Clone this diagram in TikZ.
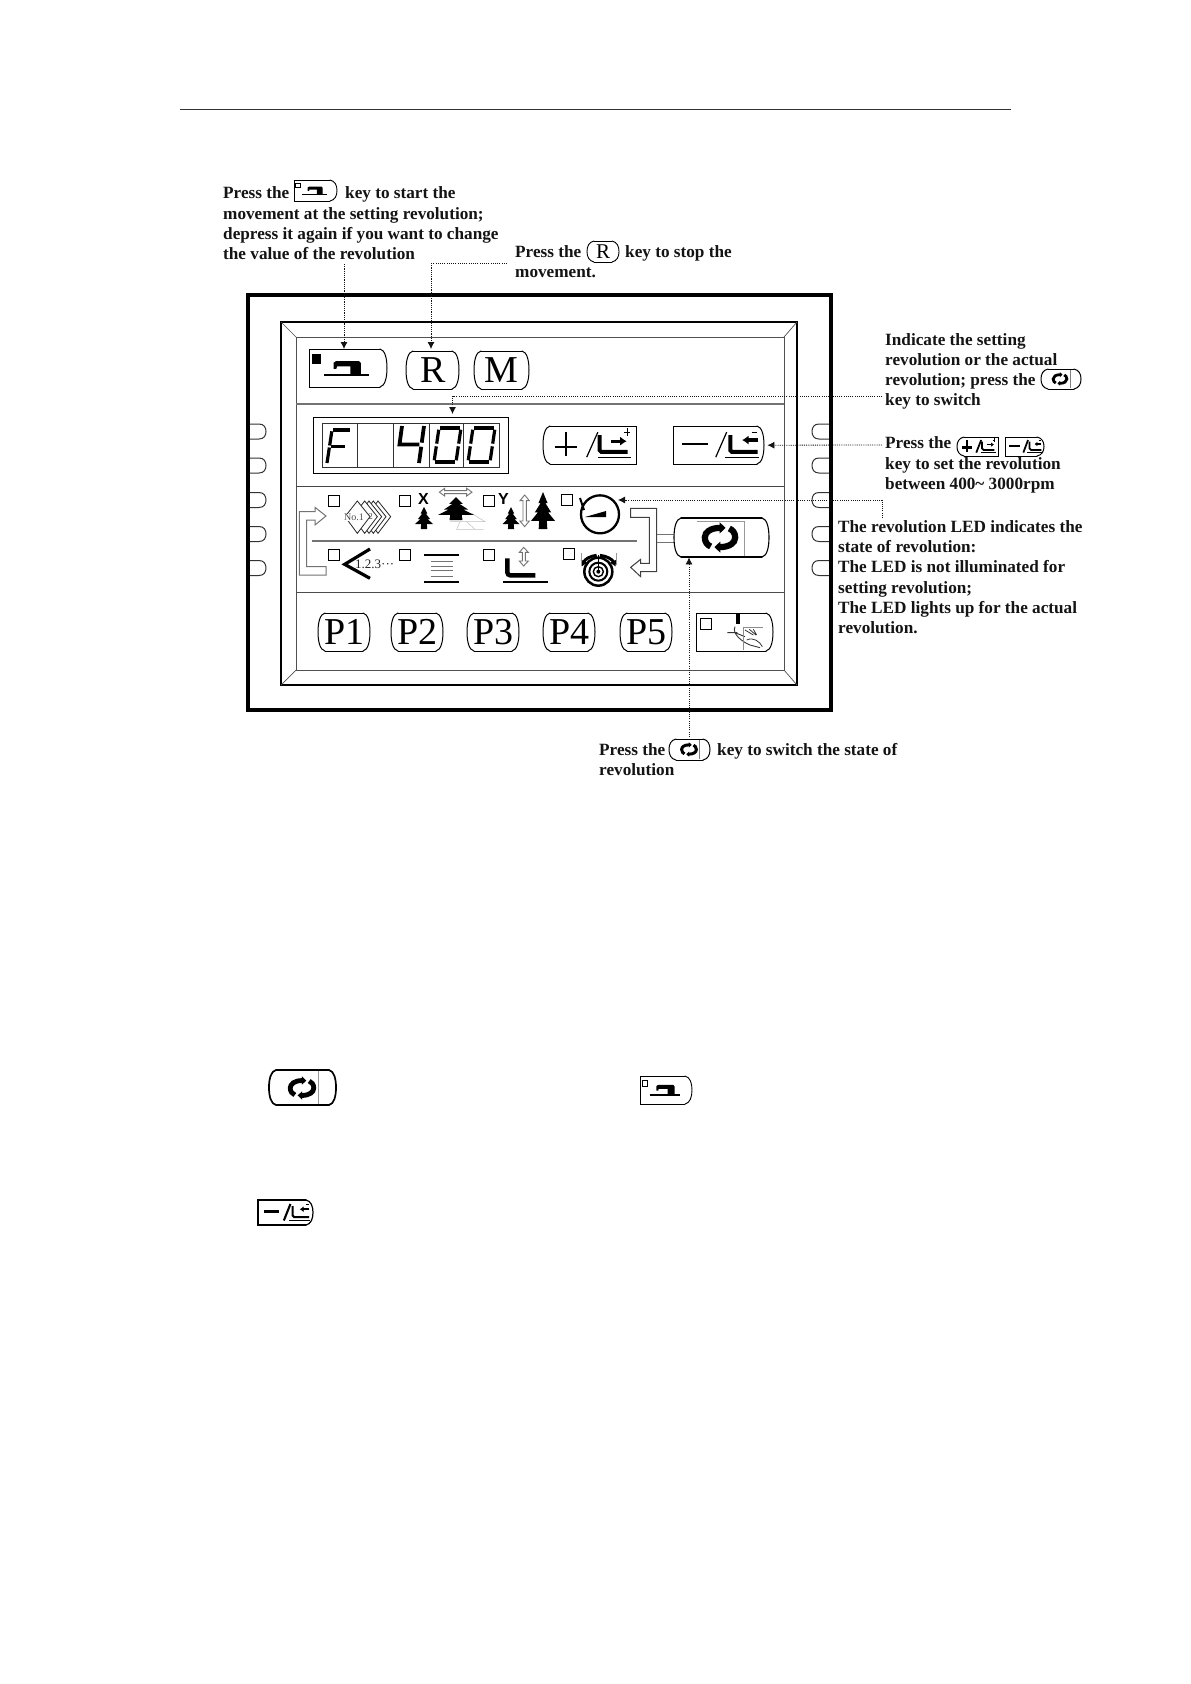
\documentclass[tikz,border=0pt]{standalone}
\usepackage{fontspec}
\setmainfont{Liberation Serif}
\newfontfamily\sansb{Liberation Sans}
\usetikzlibrary{arrows.meta,calc}
\definecolor{ink}{gray}{0.08}
\definecolor{midg}{gray}{0.45}
\tikzset{
  note/.style={font=\fontsize{17.2}{20.35}\selectfont\bfseries,text=ink,inner sep=0pt,align=left,anchor=north west},
  noteone/.style={font=\fontsize{17.2}{20.35}\selectfont\bfseries,text=ink,inner sep=0pt,anchor=base west},
  dotline/.style={line width=0.8pt,dash pattern=on 1.1pt off 1.1pt,ink},
  dotarrow/.style={dotline,-{Latex[length=7pt,width=7pt,sep=0pt]}},
  keyline/.style={line width=1pt,black,line cap=round},
  ledbox/.style={draw=black,line width=1pt,minimum size=11pt,inner sep=0pt,fill=white},
  zoomunits/.style={shift={(280,470)},x=0.33333pt,y=-0.33333pt},
  grayarrow/.style={draw=midg,line width=0.9pt,fill=white,line join=miter},
}
% key: name x y w h leftCurved rightCurved lw text
\newcommand\keybox[9]{%
  \draw[keyline,line width=#8pt] (#2+7,#3) -- (#2+#4-7,#3) (#2+7,#3+#5) -- (#2+#4-7,#3+#5);
  \ifnum#6=1
    \draw[keyline,line width=#8pt] (#2+7,#3) .. controls (#2+2,#3+1) and (#2,#3+#5*0.25) .. (#2,#3+#5*0.5) .. controls (#2,#3+#5*0.75) and (#2+2,#3+#5-1) .. (#2+7,#3+#5);
  \else
    \draw[keyline,line width=#8pt] (#2+7,#3) -- (#2,#3) -- (#2,#3+#5) -- (#2+7,#3+#5);
  \fi
  \ifnum#7=1
    \draw[keyline,line width=#8pt] (#2+#4-7,#3) .. controls (#2+#4-2,#3+1) and (#2+#4,#3+#5*0.25) .. (#2+#4,#3+#5*0.5) .. controls (#2+#4,#3+#5*0.75) and (#2+#4-2,#3+#5-1) .. (#2+#4-7,#3+#5);
  \else
    \draw[keyline,line width=#8pt] (#2+#4-7,#3) -- (#2+#4,#3) -- (#2+#4,#3+#5) -- (#2+#4-7,#3+#5);
  \fi
  \node[inner sep=0pt,anchor=north west,minimum width=#4pt,minimum height=#5pt] (#1) at (#2,#3) {#9};
}
% sewing glyph: x y w h ledfill
\newcommand\sewglyph[5]{%
  \begin{scope}[shift={(#1,#2)},x=#3pt,y=-#4pt]
    \draw[line width=0.8pt,fill=#5] (.043,.14) rectangle (.15,.37);
    \fill[black] (.316,.36) -- (.345,.32) -- (.64,.32) -- (.665,.37) -- (.665,.67) -- (.53,.67) -- (.53,.46) -- (.36,.46) -- (.35,.52) -- (.316,.52) -- cycle;
    \fill[black] (.195,.65) rectangle (.77,.70);
  \end{scope}}
% cycle glyph: cx cy s
\newcommand\cycleglyph[3]{%
  \begin{scope}[shift={(#1,#2)},x=#3pt,y=-#3pt]
    \draw[line width=#3*0.40pt,black] (0,-.62) .. controls (-.6,-.62) and (-.98,-.35) .. (-.98,0) .. controls (-.98,.3) and (-.8,.5) .. (-.6,.58);
    \fill[black] (-.02,-.98) -- (.36,-.62) -- (-.02,-.26) -- cycle;
    \draw[line width=#3*0.40pt,black] (0,.62) .. controls (.6,.62) and (.98,.35) .. (.98,0) .. controls (.98,-.3) and (.8,-.5) .. (.6,-.58);
    \fill[black] (.02,.98) -- (-.36,.62) -- (.02,.26) -- cycle;
  \end{scope}}
% plus/minus glyphs: x y w h footlw dashlw
\newcommand\plusglyph[6]{%
  \begin{scope}[shift={(#1,#2)},x=#3pt,y=-#4pt]
    \draw[line width=#6pt] (.13,.55) -- (.37,.55) (.247,.16) -- (.247,.79);
    \draw[line width=#6pt*0.8] (.47,.82) -- (.59,.16);
    \draw[line width=#5pt,rounded corners=1.5pt] (.61,.24) -- (.61,.68) -- (.91,.68);
    \draw[line width=#6pt*0.7] (.59,.82) -- (.95,.82);
    \draw[line width=#5pt*0.8,-{Latex[length=#3pt*0.07,width=#4pt*0.24]}] (.73,.40) -- (.90,.40);
    \draw[line width=0.4pt] (.875,.16) -- (.935,.16) (.905,.06) -- (.905,.26);
  \end{scope}}
\newcommand\minusglyph[6]{%
  \begin{scope}[shift={(#1,#2)},x=#3pt,y=-#4pt]
    \draw[line width=#6pt] (.10,.47) -- (.385,.47);
    \draw[line width=#6pt*0.8] (.47,.82) -- (.59,.16);
    \draw[line width=#5pt,rounded corners=1.5pt] (.63,.24) -- (.63,.68) -- (.93,.68);
    \draw[line width=#6pt*0.7] (.57,.82) -- (.95,.82);
    \draw[line width=#5pt*0.8,-{Latex[length=#3pt*0.07,width=#4pt*0.24]}] (.93,.37) -- (.76,.37);
    \draw[line width=0.4pt] (.865,.16) -- (.925,.16);
  \end{scope}}
% tree: cx top halfw h
\newcommand\treeg[4]{%
  \fill[black,shift={(#1,#2)},x=#3pt,y=-#4pt] (0,0) -- (.38,.30) -- (.2,.30) -- (.68,.55) -- (.42,.55) -- (1,.78) -- (.32,.78) -- (.36,1) -- (-.36,1) -- (-.32,.78) -- (-1,.78) -- (-.42,.55) -- (-.68,.55) -- (-.2,.30) -- (-.38,.30) -- cycle;}
% 7-seg digit pieces
\newcommand\segs[5]{% x y w h list
  \begin{scope}[shift={(#1,#2)},x={(#3pt,0pt)},y={(-5pt,-#4pt)}]
    \foreach \a/\b/\c/\d in {#5}{\draw[line width=3.2pt,black] (\a,\b) -- (\c,\d);}
  \end{scope}}
\newcommand\tabL[1]{\draw[line width=1pt,black!80] (248,#1-7.5) -- (259,#1-7.5) .. controls (264,#1-7.5) and (266,#1-4) .. (266,#1) .. controls (266,#1+4) and (264,#1+7.5) .. (259,#1+7.5) -- (248,#1+7.5);}
\newcommand\tabR[1]{\draw[line width=1pt,black!80] (830,#1-7.5) -- (819,#1-7.5) .. controls (814,#1-7.5) and (812,#1-4) .. (812,#1) .. controls (812,#1+4) and (814,#1+7.5) .. (819,#1+7.5) -- (830,#1+7.5);}
\begin{document}
\begin{tikzpicture}[x=1pt,y=-1pt]
\useasboundingbox (0,0) rectangle (1191,1684);
\fill[white] (0,0) rectangle (1191,1684);
% header rule
\coordinate (ruleL) at (180,109.5);
\coordinate (ruleR) at (1011,109.5);
\draw[line width=1pt,black!80] (ruleL) -- (ruleR);
% side tabs
\foreach \t in {431.5,465.5,500,534,568}{\tabL{\t}\tabR{\t}}
% outer frame
\draw[line width=4pt,black] (248,295) rectangle (831,710);
% inner frame
\draw[line width=2pt,black] (281,322) rectangle (797,685);
\draw[line width=1pt,midg!70!black] (296,337) rectangle (784,670);
\draw[line width=0.7pt,midg!70!black] (281,322) -- (296,337) (797,322) -- (784,337) (281,685) -- (296,670) (797,685) -- (784,670);
\draw[line width=1.4pt,midg] (296,404) -- (784,404);
\draw[line width=1pt,midg!60!black] (296,486.5) -- (784,486.5);
\draw[line width=1pt,black!70] (296,592) -- (784,592);
% top keys
\keybox{sewkey}{309}{349}{78}{38}{0}{1}{1}{}
\sewglyph{309}{349}{78}{38}{black}
\keybox{rkey}{406}{351}{53}{38}{1}{1}{1}{\fontsize{38}{38}\selectfont R}
\keybox{mkey}{474}{351}{55}{38}{1}{1}{1}{\fontsize{38}{38}\selectfont M}
% display
\node[draw=black,line width=1.2pt,minimum width=195pt,minimum height=56pt,inner sep=0pt,anchor=north west] (display) at (313,417) {};
\draw[line width=0.8pt,black!80] (322,423) rectangle (499,467) (357,423) -- (357,467) (393,423) -- (393,467) (429,423) -- (429,467) (463,423) -- (463,467);
\segs{332}{430}{18}{33}{.05/0/.98/0, 0/.04/0/.47, 0/.53/0/1, .08/.5/.85/.5}
\begin{scope}[shift={(402,426)},x={(22pt,0pt)},y={(-5pt,-37pt)}]
  \draw[line width=3.8pt,black] (0,0) -- (0,.5) -- (.9,.5);
  \draw[line width=3.8pt,black] (1,0) -- (1,.45) (1,.56) -- (1,1);
\end{scope}
\segs{439}{428}{22}{34}{.05/0/.95/0, 0/.05/0/.46, 0/.54/0/.95, 1/.05/1/.46, 1/.54/1/.95, .05/1/.95/1}
\segs{473}{428}{22}{34}{.05/0/.95/0, 0/.05/0/.46, 0/.54/0/.95, 1/.05/1/.46, 1/.54/1/.95, .05/1/.95/1}
% plus minus keys
\keybox{pluskey}{543}{426}{93}{38}{1}{0}{1}{}
\plusglyph{543}{426}{93}{38}{4}{1.5}
\keybox{minuskey}{673}{426}{91}{38}{0}{1}{1}{}
\minusglyph{673}{426}{91}{38}{4}{1.5}
% LED row and icons, in zoom units
\begin{scope}[zoomunits]
  \foreach \n/\a/\b in {la/161/92,lb/374/92,lc/626/92,ld/862/91,le/161/254,lf/374/254,lg/626/254,lh/866/253}
    \node[ledbox] (\n) at (\a,\b) {};
  \draw[line width=2pt,midg] (97,213) -- (1072,213);
  \draw[grayarrow,line width=1pt] (58,125) -- (105,125) -- (105,112) -- (138,138) -- (105,165) -- (105,150) -- (80,150) -- (80,290) -- (138,290) -- (138,315) -- (58,315) -- cycle;
  \draw[line width=1pt,black!75,fill=white] (1052,115) -- (1130,115) -- (1130,305) -- (1082,305) -- (1082,320) -- (1052,292) -- (1082,268) -- (1082,280) -- (1108,280) -- (1108,142) -- (1052,142) -- cycle;
  \draw[line width=0.9pt,midg] (1130,192) -- (1182,192) (1130,217) -- (1182,217);
  % chevrons
  \foreach \o in {62,48,35,22,0}{
    \draw[line width=0.8pt,black!85,fill=white,xshift=\o*0.3333pt] (195,140) -- (232,93) -- (270,140) -- (232,190) -- cycle;}
  \node[font=\fontsize{10}{10}\selectfont,text=black!70,inner sep=0.3pt,fill=white] (noA) at (222,143) {No.1};
  \node[font=\fontsize{9}{9}\selectfont,text=black!70,inner sep=0pt] (noB) at (272,140) {2};
  % X group
  \node[font=\sansb\bfseries\fontsize{16}{16}\selectfont,inner sep=0pt] (xlab) at (430,87) {X};
  \node[font=\sansb\bfseries\fontsize{16}{16}\selectfont,inner sep=0pt] (ylab) at (670,87) {Y};
  \draw[grayarrow] (478,66.5) -- (494,55) -- (494,62) -- (560,62) -- (560,55) -- (576,66.5) -- (560,78) -- (560,71) -- (494,71) -- (494,78) -- cycle;
  \draw[line width=0.5pt,black!25] (528,178) -- (610,178) (540,155) -- (530,178) (560,155) -- (585,178) (575,130) -- (615,155) -- (510,155);
  \draw[grayarrow] (734,75) -- (748,92) -- (739,92) -- (739,153) -- (748,153) -- (734,170) -- (720,153) -- (729,153) -- (729,92) -- (720,92) -- cycle;
  \draw[grayarrow] (731,232) -- (745,247) -- (736,247) -- (736,273) -- (745,273) -- (731,288) -- (718,273) -- (727,273) -- (727,247) -- (718,247) -- cycle;
  % gauge
  \node[circle,draw=black,line width=2.3pt,minimum size=38pt,inner sep=0pt] (gauge) at (960,133) {};
  \fill[black] (915,141) -- (978,123) -- (978,141) -- cycle;
  \draw[line width=2pt,black] (900,84) -- (912,120);
  % 1.2.3
  \draw[line width=3.2pt,black,line join=miter] (270,237) -- (194,283) -- (270,325);
  \node[font=\fontsize{13}{13}\selectfont,text=black!85,inner sep=0pt,anchor=west] (seq) at (225,283) {1.2.3···};
  % stack
  \draw[line width=2pt,black] (433,256) -- (537,256) (433,336) -- (537,336);
  \draw[line width=1pt,midg] (452,274) -- (518,274) (452,288) -- (518,288) (452,302) -- (518,302) (452,318) -- (518,318);
  % foot
  \draw[line width=4.5pt,black,rounded corners=3pt] (682,265) -- (682,316) -- (766,316);
  \draw[line width=1.1pt,black] (670,336) -- (803,336);
  % bobbin
  \draw[line width=2.5pt,black] (955,305) circle [radius=42];
  \draw[line width=2pt,black] (955,305) circle [radius=27];
  \draw[line width=1.4pt,black] (955,305) circle [radius=15];
  \fill[black] (955,305) circle [radius=6];
  \draw[line width=1.1pt,black] (955,255) -- (955,300);
  \draw[line width=3pt,black,-{Latex[length=6pt,width=8pt]}] (950,256) .. controls (930,258) and (915,268) .. (905,290);
  \draw[line width=3pt,black,-{Latex[length=6pt,width=8pt]}] (960,256) .. controls (980,258) and (997,268) .. (1007,290);
  \draw[line width=0.6pt,black!40] (1010,250) -- (1010,285) (903,250) -- (903,285);
\end{scope}
\treeg{424}{507}{9}{22}
\treeg{511}{507}{8.5}{22}
\treeg{543}{492}{12}{37}
\treeg{456}{497}{18}{23}
% switch key
\keybox{switchkey}{674}{518}{95}{39}{1}{1}{1.1}{}
\draw[line width=0.5pt,black!40] (697,521) -- (744,521) -- (744,556);
\cycleglyph{720}{537.5}{15.5}
% P keys
\keybox{pone}{318}{613}{52}{38}{1}{1}{1}{\fontsize{38}{38}\selectfont P1}
\keybox{ptwo}{391}{613}{52}{38}{1}{1}{1}{\fontsize{38}{38}\selectfont P2}
\keybox{pthree}{467}{613}{52}{38}{1}{1}{1}{\fontsize{38}{38}\selectfont P3}
\keybox{pfour}{543}{613}{52}{38}{1}{1}{1}{\fontsize{38}{38}\selectfont P4}
\keybox{pfive}{620}{613}{52}{38}{1}{1}{1}{\fontsize{38}{38}\selectfont P5}
\keybox{handkey}{696}{613}{77}{38}{0}{1}{1}{}
\node[ledbox] (lphand) at (705.5,623.5) {};
\begin{scope}[zoomunits]
  \draw[line width=4pt,black] (1375,430) -- (1375,462);
  \draw[line width=0.9pt,black!80] (1342,488) -- (1372,488) (1365,470) .. controls (1355,490) and (1385,515) .. (1410,525) -- (1440,533) (1365,488) -- (1395,500);
  \draw[line width=0.5pt,black!45] (1390,472) -- (1450,472) (1390,472) -- (1390,541);
  \draw[line width=0.8pt,black!80] (1395,480) -- (1420,495) (1408,478) -- (1428,495) (1420,478) -- (1430,495) (1400,510) .. controls (1420,500) and (1440,515) .. (1447,530);
\end{scope}
% texts
\node[noteone] (t1a) at (223,198) {Press the};
\keybox{inlsew}{294}{180}{43}{21}{0}{1}{0.9}{}
\sewglyph{294}{180}{43}{21}{white}
\node[noteone] (t1b) at (345,198) {key to start the};
\node[note] (t1c) at (223,207) {movement at the setting revolution;\\depress it again if you want to change\\the value of the revolution};
\node[noteone] (t2a) at (515,257) {Press the};
\keybox{inlr}{587}{241}{32}{21}{1}{1}{0.9}{\fontsize{21}{21}\selectfont R}
\node[noteone] (t2b) at (625,257) {key to stop the};
\node[noteone] (t2c) at (515,277.3) {movement.};
\node[note] (t3a) at (885,333) {Indicate the setting\\revolution or the actual\\revolution; press the};
\keybox{inlcyc}{1041}{369}{40}{20}{1}{1}{1}{}
\draw[line width=0.5pt,black!50] (1070,370) -- (1070,388);
\cycleglyph{1060}{379}{7}
\node[noteone] (t3b) at (885,405) {key to switch};
\node[noteone] (t4a) at (885,448) {Press the};
\keybox{inlplus}{957}{437}{41}{19}{1}{0}{1}{}
\plusglyph{957}{437}{41}{19}{1.7}{2.2}
\keybox{inlminus}{1005}{437}{39}{19}{0}{1}{1}{}
\minusglyph{1005}{437}{39}{19}{1.7}{2.2}
\node[note] (t4b) at (885,457) {key to set the revolution\\between 400{\symbol{126}} 3000rpm};
\node[note] (t5) at (838,520) {The revolution LED indicates the\\state of revolution:\\The LED is not illuminated for\\setting revolution;\\The LED lights up for the actual\\revolution.};
\node[noteone] (t6a) at (599,755) {Press the};
\keybox{inlcyc2}{669}{739}{41}{21}{1}{1}{1}{}
\draw[line width=0.5pt,black!50] (699,740) -- (699,759);
\cycleglyph{689}{749.5}{7.5}
\node[noteone] (t6b) at (717,755) {key to switch the state of};
\node[noteone] (t6c) at (599,775.3) {revolution};
% body icons
\keybox{lowcyc}{269}{1070}{67}{35}{1}{1}{1.7}{}
\draw[line width=0.5pt,black!40] (318,1071) -- (318,1104);
\cycleglyph{302}{1088}{12}
\keybox{lowsew}{640}{1076}{52}{28}{0}{1}{0.9}{}
\sewglyph{640}{1076}{52}{28}{white}
\keybox{lowminus}{258}{1200}{55}{25}{0}{1}{1.2}{}
\minusglyph{258}{1200}{55}{25}{2}{2.6}
% connectors
\coordinate (c1s) at (344,264);
\coordinate (c2s) at (507,263);
\coordinate (c2m) at (431,263);
\coordinate (c3s) at (882,396);
\coordinate (c3t) at (452.5,414);
\coordinate (c4s) at (882,445);
\coordinate (c5s) at (882,518);
\coordinate (c5t) at (618,500);
\coordinate (c6s) at (689,737);
\draw[dotarrow] (c1s) -- (c1s |- sewkey.north);
\draw[dotline] (c2s) -- (c2m);
\draw[dotarrow] (c2m) -- ($(c2m |- rkey.north)+(0,-2)$);
\draw[dotarrow] (c3s) -| (c3t);
\draw[dotarrow] (c4s) -- ($(minuskey.east)+(3,0)$);
\draw[dotarrow] (c5s) |- (c5t);
\draw[dotarrow] (c6s) -- (c6s |- switchkey.south);
\end{tikzpicture}
\end{document}
